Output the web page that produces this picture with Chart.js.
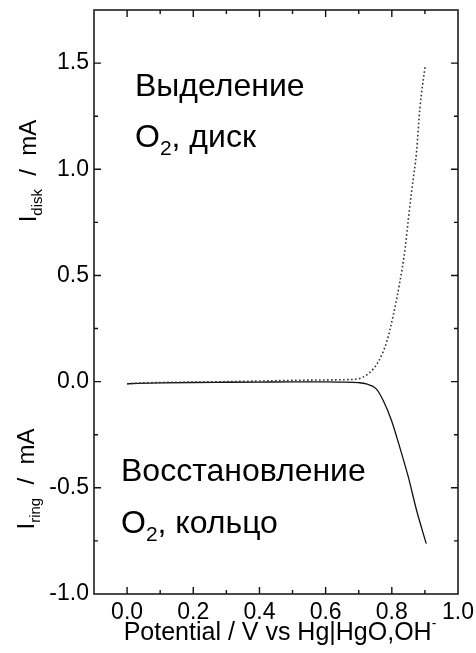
<!DOCTYPE html>
<html>
<head>
<meta charset="utf-8">
<script src="https://cdn.jsdelivr.net/npm/chart.js@4.4.0/dist/chart.umd.min.js"></script>
<style>
  html, body { margin: 0; padding: 0; background: #fff; }
  #wrap { width: 476px; height: 653px; }
</style>
</head>
<body>
<div id="wrap"><canvas id="myChart"></canvas></div>
<script>
// disk current (dotted) - potential in V, current in mA
const diskV = [0.0, 0.05, 0.1, 0.2, 0.3, 0.4, 0.5, 0.6, 0.65, 0.697, 0.728, 0.758, 0.784, 0.804, 0.824, 0.840, 0.850, 0.860, 0.875, 0.885, 0.901];
const diskI = [-0.010, -0.006, -0.004, -0.002, 0.000, 0.003, 0.006, 0.008, 0.009, 0.013, 0.036, 0.091, 0.185, 0.310, 0.467, 0.624, 0.765, 0.898, 1.087, 1.290, 1.490];

// ring current (solid)
const ringV = [0.0, 0.1, 0.2, 0.3, 0.4, 0.5, 0.6, 0.641, 0.70, 0.723, 0.753, 0.774, 0.799, 0.824, 0.850, 0.875, 0.904];
const ringI = [-0.010, -0.006, -0.004, -0.003, -0.002, -0.001, -0.001, -0.002, -0.005, -0.011, -0.034, -0.089, -0.183, -0.309, -0.450, -0.607, -0.763];

// axis settings
const xMin = -0.1, xMax = 1.0, xStep = 0.1;
const yMin = -1.0, yMax = 1.75, yStep = 0.25;

const FONT = '"Liberation Sans", Arial, sans-serif';

function toPoints(xs, ys) {
    return xs.map((x, i) => ({x: x, y: ys[i]}));
}

// draws a run of text pieces (for sub/superscripts) starting at x
function drawPieces(ctx, pieces, x, y) {
    pieces.forEach(p => {
        ctx.font = p.size + 'px ' + FONT;
        ctx.fillText(p.t, x, y + (p.dy || 0));
        x += ctx.measureText(p.t).width;
    });
    return x;
}
function piecesWidth(ctx, pieces) {
    let w = 0;
    pieces.forEach(p => {
        ctx.font = p.size + 'px ' + FONT;
        w += ctx.measureText(p.t).width;
    });
    return w;
}

const framePlugin = {
    id: 'frame',
    afterDraw(chart) {
        const ctx = chart.ctx;
        const a = chart.chartArea;
        const xs = chart.scales.x, ys = chart.scales.y;
        ctx.save();
        ctx.strokeStyle = '#111';
        ctx.lineWidth = 1.5;
        ctx.strokeRect(a.left, a.top, a.right - a.left, a.bottom - a.top);

        // inward tick marks on all four sides
        ctx.lineWidth = 1.4;
        ctx.beginPath();
        xs.ticks.forEach(t => {
            const k = Math.round(t.value * 10);
            if (t.value <= xMin + 1e-6 || t.value >= xMax - 1e-6) return;
            const len = (k % 2 === 0) ? 7 : 4;
            const px = xs.getPixelForValue(t.value);
            ctx.moveTo(px, a.bottom); ctx.lineTo(px, a.bottom - len);
            ctx.moveTo(px, a.top); ctx.lineTo(px, a.top + len);
        });
        ys.ticks.forEach(t => {
            const k = Math.round(t.value * 4);
            if (t.value <= yMin + 1e-6 || t.value >= yMax - 1e-6) return;
            const len = (k % 2 === 0) ? 7 : 4;
            const py = ys.getPixelForValue(t.value);
            ctx.moveTo(a.left, py); ctx.lineTo(a.left + len, py);
            ctx.moveTo(a.right, py); ctx.lineTo(a.right - len, py);
        });
        ctx.stroke();

        ctx.fillStyle = '#000';
        ctx.textBaseline = 'alphabetic';
        ctx.textAlign = 'left';

        // x axis title
        const xt = [
            {t: 'Potential / V vs Hg|HgO,OH', size: 25},
            {t: '-', size: 14, dy: -12}
        ];
        const xw = piecesWidth(ctx, xt);
        drawPieces(ctx, xt, 280 - xw / 2, 640);

        // y axis titles (rotated)
        const yTitle = (sub, cx, cy) => {
            const pcs = [
                {t: 'I', size: 24},
                {t: sub, size: 15, dy: 6},
                {t: '  /  mA', size: 24}
            ];
            const w = piecesWidth(ctx, pcs);
            ctx.save();
            ctx.translate(cx, cy);
            ctx.rotate(-Math.PI / 2);
            drawPieces(ctx, pcs, -w / 2, 8);
            ctx.restore();
        };
        yTitle('disk', 28, 171);
        yTitle('ring', 26, 479);

        // annotations
        drawPieces(ctx, [{t: 'Выделение', size: 32}], 135, 96);
        drawPieces(ctx, [{t: 'O', size: 32}, {t: '2', size: 21, dy: 8}, {t: ', диск', size: 32}], 135, 147);
        drawPieces(ctx, [{t: 'Восстановление', size: 32}], 121, 481);
        drawPieces(ctx, [{t: 'O', size: 32}, {t: '2', size: 21, dy: 8}, {t: ', кольцо', size: 32}], 121, 533);
        ctx.restore();
    }
};

function createChart() {
    const ctx = document.getElementById('myChart');
    new Chart(ctx, {
        type: 'scatter',
        data: {
            datasets: [
                {
                    label: 'I disk',
                    data: toPoints(diskV, diskI),
                    showLine: true,
                    borderColor: '#333',
                    borderWidth: 1.6,
                    borderDash: [1.6, 2.4],
                    pointRadius: 0,
                    cubicInterpolationMode: 'monotone',
                    fill: false
                },
                {
                    label: 'I ring',
                    data: toPoints(ringV, ringI),
                    showLine: true,
                    borderColor: '#111',
                    borderWidth: 1.3,
                    pointRadius: 0,
                    cubicInterpolationMode: 'monotone',
                    fill: false
                }
            ]
        },
        options: {
            responsive: true,
            maintainAspectRatio: false,
            animation: false,
            layout: { padding: {top: 10, right: 18, left: 0, bottom: 0} },
            plugins: {
                legend: { display: false },
                tooltip: { enabled: false }
            },
            scales: {
                x: {
                    type: 'linear',
                    min: xMin, max: xMax,
                    grid: { display: false, drawTicks: false },
                    border: { display: false },
                    ticks: {
                        stepSize: xStep,
                        autoSkip: false,
                        maxRotation: 0,
                        padding: 5,
                        color: '#000',
                        font: { family: FONT, size: 23 },
                        callback: function(val) {
                            const k = Math.round(val * 10);
                            return (k >= 0 && k % 2 === 0) ? (k / 10).toFixed(1) : '';
                        }
                    },
                    afterFit: function(s) {
                        s.height = 59;
                        s.paddingLeft = 0;
                        s.paddingRight = 0;
                    }
                },
                y: {
                    type: 'linear',
                    min: yMin, max: yMax,
                    grid: { display: false, drawTicks: false },
                    border: { display: false },
                    ticks: {
                        stepSize: yStep,
                        autoSkip: false,
                        padding: 5,
                        color: '#000',
                        font: { family: FONT, size: 23 },
                        callback: function(val) {
                            const k = Math.round(val * 4);
                            return (k % 2 === 0) ? (k / 4).toFixed(1) : '';
                        }
                    },
                    afterFit: function(s) {
                        s.width = 94;
                        s.paddingTop = 0;
                        s.paddingBottom = 0;
                    }
                }
            }
        },
        plugins: [framePlugin]
    });
}

createChart();
</script>
</body>
</html>
